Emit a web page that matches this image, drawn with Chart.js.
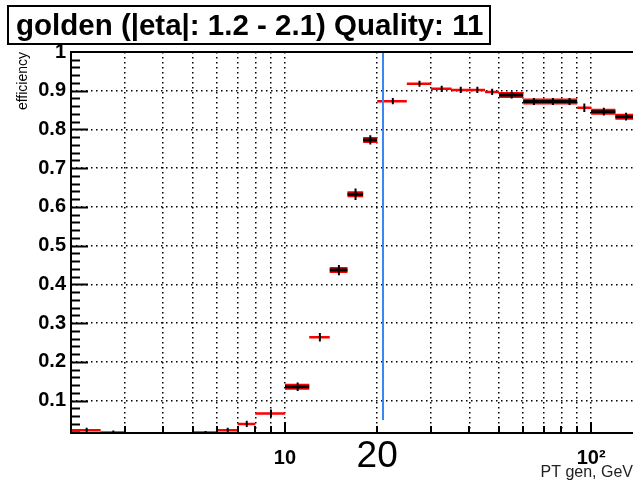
<!DOCTYPE html>
<html>
<head>
<meta charset="utf-8">
<script src="https://cdn.jsdelivr.net/npm/chart.js@4.4.1/dist/chart.umd.min.js"></script>
<style>
  html, body { margin: 0; padding: 0; background: #fff; }
  #wrap { width: 633px; height: 483px; position: relative; }
</style>
</head>
<body>
<div id="wrap"><canvas id="eff" width="633" height="483"></canvas></div>
<script>
// pt bins (GeV) of the efficiency histogram
const binLow  = [2, 2.5, 5, 6, 7, 8, 10, 12, 14, 16, 18, 20, 25, 30, 35, 40, 45, 50, 60, 70, 80, 90, 100, 120];
const binHigh = [2.5, 3, 6, 7, 8, 10, 12, 14, 16, 18, 20, 25, 30, 35, 40, 45, 50, 60, 70, 80, 90, 100, 120, 140];
// red histogram
const efficiency = [0.024, 0.018, 0.018, 0.024, 0.040, 0.067, 0.136, 0.264, 0.437, 0.633, 0.773, 0.873,
                    0.918, 0.905, 0.902, 0.902, 0.897, 0.889, 0.872, 0.872, 0.872, 0.856, 0.846, 0.833];
// overlaid black histogram (only where it shows)
const overlayEff = [null, null, null, null, null, null, 0.136, null, 0.437, 0.633, 0.773, null,
                    null, null, null, null, null, 0.889, 0.872, 0.872, 0.872, null, 0.846, 0.833];
const effError = [0.006, 0.005, 0.004, 0.006, 0.008, 0.010, 0.011, 0.011, 0.013, 0.015, 0.012, 0.008,
                  0.008, 0.008, 0.008, 0.008, 0.008, 0.009, 0.009, 0.009, 0.009, 0.011, 0.010, 0.010];

// axis ticks
const yTicks = [0.1, 0.2, 0.3, 0.4, 0.5, 0.6, 0.7, 0.8, 0.9, 1];
const xTicks = [3, 4, 5, 6, 7, 8, 9, 10, 20, 30, 40, 50, 60, 70, 80, 90, 100];
const xTickLabels = { 10: "10", 100: "10\u00B2" };

// hand-drawn marker
const cutPt = 20.9;
const cutRange = [0.05, 1.0];
const cutLabel = "20";

const FONT = '"Liberation Sans", Arial, Helvetica, sans-serif';

function stepPoints(vals) {
    const pts = [];
    vals.forEach((v, i) => {
        if (v === null) return;
        pts.push({ x: binLow[i], y: v }, { x: binHigh[i], y: v }, { x: binHigh[i], y: null });
    });
    return pts;
}

function errorPoints() {
    const pts = [];
    efficiency.forEach((v, i) => {
        const c = (binLow[i] + binHigh[i]) / 2;
        pts.push({ x: c, y: v - effError[i] }, { x: c, y: v + effError[i] }, { x: c, y: null });
    });
    return pts;
}

const redOnly = efficiency.map((v, i) => (overlayEff[i] === null ? v : null));

const base = { pointRadius: 0, tension: 0, fill: false, spanGaps: false, borderCapStyle: "butt" };

// frame, inward ticks, title box and the "20" note
const rootDecor = {
    id: "rootDecor",
    afterDraw(chart) {
        const { ctx, chartArea: a } = chart;
        const xs = chart.scales.x, ys = chart.scales.y;
        ctx.save();
        ctx.strokeStyle = "#000";
        ctx.lineWidth = 2;
        ctx.beginPath();
        for (let i = 1; i < 50; i++) {
            const p = Math.round(ys.getPixelForValue(i * 0.02)) + 0.5;
            const len = i % 5 === 0 ? 17 : 9;
            ctx.moveTo(a.left, p);
            ctx.lineTo(a.left + len, p);
        }
        xTicks.forEach((v) => {
            const p = Math.round(xs.getPixelForValue(v));
            const len = v === 10 || v === 100 ? 11 : 7;
            ctx.moveTo(p, a.bottom);
            ctx.lineTo(p, a.bottom - len);
        });
        ctx.stroke();

        // frame (right side runs off the picture)
        ctx.lineWidth = 2;
        ctx.beginPath();
        ctx.moveTo(a.right + 2, a.top);
        ctx.lineTo(a.left, a.top);
        ctx.lineTo(a.left, a.bottom);
        ctx.lineTo(a.right + 2, a.bottom);
        ctx.stroke();

        // title box
        ctx.fillStyle = "#fff";
        ctx.fillRect(8, 6, 482, 38);
        ctx.strokeRect(8, 6, 482, 38);
        ctx.fillStyle = "#000";
        ctx.font = "bold 29.5px " + FONT;
        ctx.textBaseline = "alphabetic";
        ctx.textAlign = "left";
        ctx.fillText("golden (|eta|: 1.2 - 2.1) Quality: 11", 16, 35);

        // annotation under the blue line
        ctx.font = "37px " + FONT;
        ctx.textAlign = "center";
        ctx.fillText(cutLabel, xs.getPixelForValue(20), 467);
        ctx.restore();
    }
};

new Chart(document.getElementById("eff"), {
    type: "line",
    data: {
        datasets: [
            { ...base, data: errorPoints(), borderColor: "#000", borderWidth: 2, order: 1 },
            { ...base, data: stepPoints(redOnly), borderColor: "#ff0000", borderWidth: 2.5, order: 2 },
            { ...base, data: stepPoints(overlayEff), borderColor: "#000", borderWidth: 3, order: 3 },
            { ...base, data: stepPoints(overlayEff), borderColor: "#ff0000", borderWidth: 6, order: 4 },
            { ...base, data: [{ x: cutPt, y: cutRange[0] }, { x: cutPt, y: cutRange[1] }],
              borderColor: "#3c86f2", borderWidth: 2, order: 0 },
        ],
    },
    options: {
        responsive: false,
        animation: false,
        layout: { padding: { top: 52, left: 0, right: 0, bottom: 0 } },
        plugins: { legend: { display: false }, tooltip: { enabled: false } },
        scales: {
            x: {
                type: "logarithmic",
                min: 2,
                max: 137,
                afterBuildTicks: (s) => { s.ticks = xTicks.map((v) => ({ value: v })); },
                afterFit: (s) => { s.height = 50; },
                grid: { color: "#000", lineWidth: 1.5, drawTicks: false },
                border: { display: false, dash: [1.5, 3.5] },
                ticks: {
                    autoSkip: false,
                    maxRotation: 0,
                    padding: 13,
                    color: "#000",
                    font: { family: FONT, size: 20, weight: "bold" },
                    callback: (v) => xTickLabels[v] || "",
                },
                title: {
                    display: true,
                    text: "PT gen, GeV",
                    align: "end",
                    color: "#222",
                    font: { family: FONT, size: 16 },
                    padding: { top: 0, bottom: 1 },
                },
            },
            y: {
                min: 0.0166,
                max: 1.0,
                afterBuildTicks: (s) => { s.ticks = yTicks.map((v) => ({ value: v })); },
                afterFit: (s) => { s.width = 71; },
                grid: {
                    color: (c) => (c.tick && c.tick.value === 1 ? "rgba(0,0,0,0)" : "#000"),
                    lineWidth: 1.5,
                    drawTicks: false,
                },
                border: { display: false, dash: [1.5, 3.5] },
                ticks: {
                    autoSkip: false,
                    padding: 5,
                    color: "#000",
                    font: { family: FONT, size: 20, weight: "bold" },
                    callback: (v) => (v === 1 ? "1" : v.toFixed(1)),
                },
                title: {
                    display: true,
                    text: "efficiency",
                    align: "end",
                    color: "#000",
                    font: { family: FONT, size: 14 },
                    padding: { top: 15, bottom: 0 },
                },
            },
        },
    },
    plugins: [rootDecor],
});
</script>
</body>
</html>
